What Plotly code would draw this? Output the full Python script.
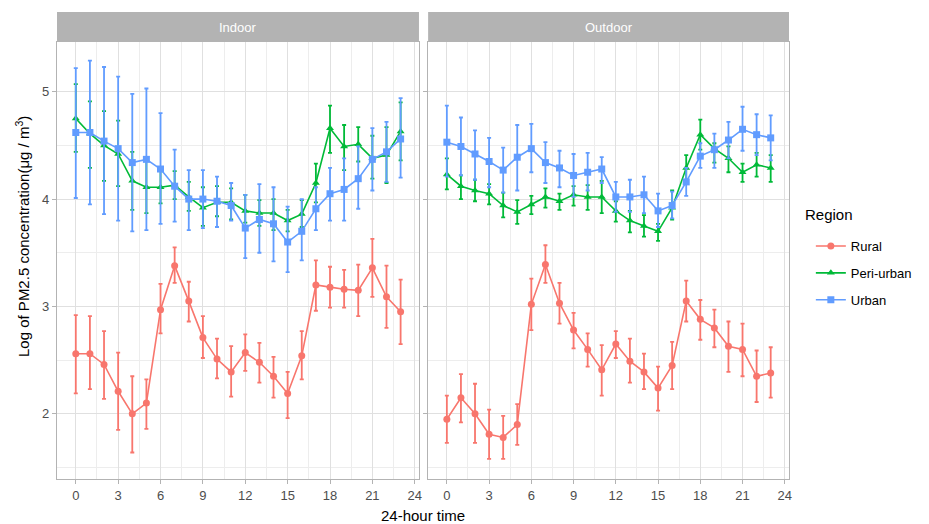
import plotly.graph_objects as go

hours = list(range(24))
regions = ["Rural", "Peri-urban", "Urban"]
colors = {"Rural": "#F8766D", "Peri-urban": "#00BA38", "Urban": "#619CFF"}
symbols = {"Rural": "circle", "Peri-urban": "triangle-up", "Urban": "square"}

# Indoor
indoor_rural_mean = [2.56,2.56,2.46,2.21,2.00,2.10,2.97,3.38,3.05,2.71,2.51,2.39,2.57,2.48,2.35,2.19,2.54,3.20,3.18,3.16,3.15,3.36,3.09,2.95]
indoor_rural_low  = [2.19,2.23,2.14,1.85,1.64,1.86,2.75,3.22,2.86,2.52,2.33,2.16,2.40,2.29,2.15,1.96,2.32,2.96,2.99,2.99,2.91,3.09,2.80,2.65]
indoor_rural_high = [2.92,2.91,2.77,2.57,2.35,2.32,3.21,3.55,3.23,2.91,2.70,2.63,2.74,2.66,2.53,2.39,2.77,3.43,3.37,3.34,3.39,3.63,3.38,3.25]

indoor_peri_mean = [4.75,4.61,4.50,4.42,4.17,4.11,4.11,4.13,4.02,3.92,3.97,3.97,3.89,3.87,3.87,3.80,3.86,4.15,4.66,4.49,4.51,4.38,4.41,4.63]
indoor_peri_low  = [4.44,4.29,4.17,4.12,3.90,3.87,3.96,4.00,3.89,3.75,3.84,3.81,3.78,3.75,3.71,3.70,3.74,3.97,4.43,4.27,4.35,4.19,4.15,4.36]
indoor_peri_high = [5.07,4.91,4.82,4.73,4.44,4.38,4.30,4.26,4.16,4.11,4.12,4.10,4.04,3.99,4.00,3.90,3.99,4.33,4.87,4.69,4.67,4.59,4.67,4.90]

indoor_urban_mean = [4.62,4.62,4.54,4.47,4.34,4.37,4.28,4.12,4.00,4.00,3.98,3.94,3.73,3.81,3.77,3.60,3.70,3.91,4.05,4.09,4.19,4.37,4.44,4.56]
indoor_urban_low  = [4.01,3.95,3.86,3.80,3.70,3.71,3.77,3.79,3.71,3.73,3.74,3.80,3.45,3.50,3.42,3.32,3.43,3.71,3.80,3.80,3.91,4.08,4.16,4.20]
indoor_urban_high = [5.22,5.29,5.23,5.14,4.98,5.03,4.80,4.46,4.27,4.27,4.21,4.15,4.04,4.14,4.11,3.93,4.00,4.11,4.29,4.38,4.49,4.66,4.72,4.94]

# Outdoor
outdoor_rural_mean = [1.95,2.15,2.00,1.81,1.78,1.90,3.02,3.39,3.03,2.78,2.60,2.41,2.65,2.49,2.39,2.24,2.45,3.05,2.88,2.80,2.63,2.60,2.35,2.38]
outdoor_rural_low  = [1.73,1.92,1.73,1.58,1.58,1.71,2.78,3.22,2.84,2.61,2.44,2.17,2.52,2.29,2.23,2.03,2.23,2.86,2.69,2.62,2.39,2.35,2.11,2.15]
outdoor_rural_high = [2.17,2.37,2.28,2.04,1.98,2.09,3.26,3.57,3.22,2.94,2.75,2.64,2.77,2.70,2.56,2.44,2.67,3.24,3.06,2.97,2.86,2.84,2.59,2.62]

outdoor_peri_mean = [4.23,4.12,4.08,4.05,3.94,3.88,3.95,4.02,3.98,4.04,4.02,4.02,3.89,3.80,3.75,3.70,3.92,4.29,4.60,4.47,4.38,4.25,4.32,4.29]
outdoor_peri_low  = [4.09,4.00,3.98,3.95,3.83,3.77,3.86,3.92,3.90,3.94,3.90,3.87,3.79,3.69,3.65,3.61,3.81,4.16,4.46,4.34,4.25,4.16,4.21,4.16]
outdoor_peri_high = [4.38,4.22,4.18,4.14,4.06,3.99,4.03,4.10,4.05,4.12,4.13,4.17,3.98,3.89,3.85,3.77,4.08,4.41,4.74,4.52,4.49,4.33,4.43,4.41]

outdoor_urban_mean = [4.53,4.49,4.42,4.35,4.27,4.39,4.47,4.34,4.29,4.22,4.25,4.28,4.02,4.02,4.04,3.89,3.94,4.16,4.40,4.46,4.55,4.65,4.60,4.57]
outdoor_urban_low  = [4.21,4.22,4.18,4.11,4.06,4.08,4.25,4.15,4.11,4.02,4.08,4.15,3.88,3.88,3.87,3.74,3.82,4.03,4.29,4.29,4.38,4.45,4.41,4.36]
outdoor_urban_high = [4.87,4.76,4.64,4.57,4.48,4.69,4.70,4.53,4.45,4.42,4.43,4.39,4.16,4.18,4.21,4.05,4.07,4.29,4.52,4.61,4.72,4.86,4.79,4.78]

x_ticks = [0, 3, 6, 9, 12, 15, 18, 21, 24]
y_ticks = [2, 3, 4, 5]
panel_titles = ["Indoor", "Outdoor"]

data = {
    ("x", "y"): {
        "Rural": (indoor_rural_mean, indoor_rural_low, indoor_rural_high),
        "Peri-urban": (indoor_peri_mean, indoor_peri_low, indoor_peri_high),
        "Urban": (indoor_urban_mean, indoor_urban_low, indoor_urban_high),
    },
    ("x2", "y2"): {
        "Rural": (outdoor_rural_mean, outdoor_rural_low, outdoor_rural_high),
        "Peri-urban": (outdoor_peri_mean, outdoor_peri_low, outdoor_peri_high),
        "Urban": (outdoor_urban_mean, outdoor_urban_low, outdoor_urban_high),
    },
}

fig = go.Figure()
for (xa, ya), series in data.items():
    for reg in regions:
        m, lo, hi = series[reg]
        fig.add_trace(go.Scatter(
            x=hours, y=m, xaxis=xa, yaxis=ya,
            mode="lines+markers", name=reg,
            legendgroup=reg, showlegend=(xa == "x"),
            line=dict(color=colors[reg], width=1.6),
            marker=dict(symbol=symbols[reg], size=7, color=colors[reg]),
            error_y=dict(type="data", symmetric=False,
                         array=[h - v for h, v in zip(hi, m)],
                         arrayminus=[v - l for v, l in zip(m, lo)],
                         color=colors[reg], thickness=1.8, width=2),
        ))

ytop = 437 / 467
grid_major = "#E0E0E0"
grid_minor = "#EDEDED"
border = "#B3B3B3"
tickfont = dict(family="Liberation Sans, Arial, sans-serif", size=13, color="#4D4D4D")

xcommon = dict(range=[-1.33, 24.3], tickvals=x_ticks, showgrid=True, gridcolor=grid_major,
               gridwidth=1, zeroline=False, showline=True, mirror=True, linecolor=border,
               linewidth=1.2, ticks="outside", ticklen=4, tickcolor=border, tickfont=tickfont,
               minor=dict(tickvals=[1.5 + 3 * i for i in range(8)], showgrid=True,
                          gridcolor=grid_minor, gridwidth=0.6, ticks=""))
ycommon = dict(range=[1.393, 5.463], tickvals=y_ticks, showgrid=True, gridcolor=grid_major,
               gridwidth=1, zeroline=False, showline=True, mirror=True, linecolor=border,
               linewidth=1.2, ticks="outside", ticklen=4, tickcolor=border, tickfont=tickfont,
               minor=dict(tickvals=[1.5, 2.5, 3.5, 4.5], showgrid=True,
                          gridcolor=grid_minor, gridwidth=0.6, ticks=""),
               domain=[0, ytop])

fig.update_layout(
    width=929, height=524,
    margin=dict(l=57, r=135, t=12, b=45),
    paper_bgcolor="white", plot_bgcolor="white",
    font=dict(family="Liberation Sans, Arial, sans-serif", color="black"),
    xaxis=dict(domain=[0, 0.4945], anchor="y", **xcommon),
    xaxis2=dict(domain=[0.507, 1], anchor="y2", **xcommon),
    yaxis=dict(anchor="x", **ycommon),
    yaxis2=dict(anchor="x2", showticklabels=False, **ycommon),
    legend=dict(x=(816 - 57) / 737, y=(479 - 231) / 467, xanchor="left", yanchor="top",
                font=dict(size=13, color="black"), tracegroupgap=7,
                itemwidth=30, bgcolor="rgba(0,0,0,0)"),
    showlegend=True,
)

# Strips
for xa, title in zip(["x", "x2"], panel_titles):
    fig.add_shape(type="rect", xref=f"{xa} domain", yref="paper",
                  x0=0, x1=1, y0=ytop + 0.002, y1=1, fillcolor="#B3B3B3", line=dict(width=0),
                  layer="below")
    fig.add_annotation(xref=f"{xa} domain", yref="paper", x=0.5, y=(ytop + 1) / 2,
                       text=title, showarrow=False, yanchor="middle",
                       font=dict(size=13, color="white"))

# Legend title
fig.add_annotation(xref="paper", yref="paper", x=(808 - 57) / 737, y=(479 - 215) / 467,
                   xanchor="left", yanchor="middle", text="Region", showarrow=False,
                   font=dict(size=15, color="black"))

# Axis titles
fig.add_annotation(xref="paper", yref="paper", x=0.5, y=0, yshift=-36, yanchor="middle",
                   text="24-hour time", showarrow=False, font=dict(size=15, color="black"))
fig.add_annotation(xref="paper", yref="paper", x=0, xshift=-35, y=(479 - 237) / 467,
                   xanchor="center", yanchor="middle", textangle=-90,
                   text="Log of PM2.5 concentration(μg / m<sup>3</sup>)", showarrow=False,
                   font=dict(size=15, color="black"))

fig.write_html("out.html", config={"displayModeBar": False},
               post_script="document.body.style.margin='0';")
